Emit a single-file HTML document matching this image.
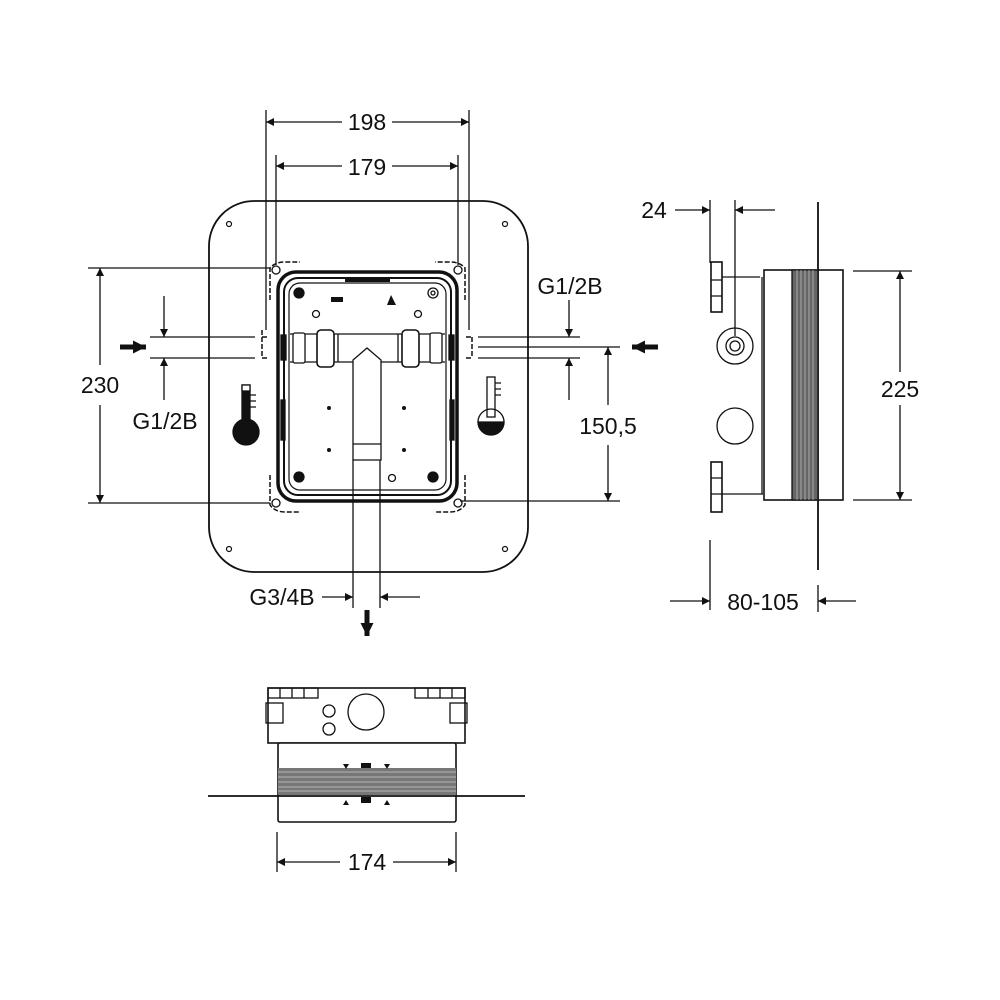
<!DOCTYPE html>
<html><head><style>html,body{margin:0;padding:0;background:#fff}svg{display:block}text{font-family:"Liberation Sans",sans-serif;fill:#111}</style></head><body>
<svg width="1000" height="1000" viewBox="0 0 1000 1000" xmlns="http://www.w3.org/2000/svg">
<defs>
<marker id="a" viewBox="0 0 10 10" refX="10" refY="5" markerWidth="15" markerHeight="8" orient="auto-start-reverse" markerUnits="userSpaceOnUse"><path d="M0,0 L10,5 L0,10z" fill="#111"/></marker>
<marker id="b" viewBox="0 0 10 10" refX="10" refY="5" markerWidth="13" markerHeight="17" orient="auto-start-reverse" markerUnits="userSpaceOnUse"><path d="M0,0 L10,5 L0,10z" fill="#111"/></marker>
</defs>
<g stroke="#111" fill="none" stroke-width="1.3">
<rect x="209" y="201" width="319" height="371" rx="45" stroke-width="1.8"/>
<g fill="none" stroke-width="1.2"><circle cx="229" cy="224" r="2.5"/><circle cx="505" cy="224" r="2.5"/><circle cx="229" cy="549" r="2.5"/><circle cx="505" cy="549" r="2.5"/></g>
<rect x="278" y="272" width="179" height="229" rx="18" stroke-width="3.5"/>
<rect x="284" y="278" width="167" height="217" rx="14" stroke-width="2"/>
<rect x="289" y="283" width="157" height="207" rx="11" stroke-width="1.2"/>
<rect x="345" y="277" width="45" height="5" fill="#111" stroke="none"/>
<g stroke-dasharray="5,2" stroke-width="1.5">
<path d="M270,300 L270,268 Q275,262 285,262 L300,262"/><path d="M465,300 L465,268 Q460,262 450,262 L435,262"/>
<path d="M270,475 L270,505 Q275,512 285,512 L300,512"/><path d="M465,475 L465,505 Q460,512 450,512 L435,512"/>
<path d="M262,330 L262,358 M262,337 L268,337 M262,358 L268,358"/>
<path d="M472,337 L472,358 M466,337 L472,337 M466,358 L472,358"/>
</g>
<circle cx="276" cy="270" r="4"/><circle cx="458" cy="270" r="4"/><circle cx="276" cy="503" r="4"/><circle cx="458" cy="503" r="4"/>
<g fill="#111"><circle cx="299" cy="293" r="5"/><circle cx="299" cy="477" r="5"/><circle cx="433" cy="477" r="5"/></g>
<circle cx="433" cy="293" r="5"/><circle cx="433" cy="293" r="2"/>
<circle cx="316" cy="314" r="3.5"/><circle cx="418" cy="314" r="3.5"/><circle cx="392" cy="478" r="3.5"/>
<g fill="#111" stroke="none"><circle cx="329" cy="408" r="2"/><circle cx="404" cy="408" r="2"/><circle cx="329" cy="450" r="2"/><circle cx="404" cy="450" r="2"/>
<path d="M391,295 L387,305 L396,305 Z"/><rect x="331" y="297" width="12" height="5"/></g>
<line x1="290" y1="334" x2="445" y2="334"/><line x1="290" y1="362" x2="445" y2="362"/>
<rect x="293" y="333" width="12" height="30" rx="2" fill="#fff"/><rect x="430" y="333" width="12" height="30" rx="2" fill="#fff"/>
<rect x="317" y="330" width="17" height="37" rx="4" fill="#fff" stroke-width="1.6"/><rect x="402" y="330" width="17" height="37" rx="4" fill="#fff" stroke-width="1.6"/>
<line x1="338" y1="334" x2="338" y2="362"/><line x1="398" y1="334" x2="398" y2="362"/>
<path d="M353,460 L353,362 L353,360 L367,348 L381,360 L381,460 Z" fill="#fff"/>
<line x1="353" y1="444" x2="381" y2="444"/>
<rect x="281" y="335" width="5" height="25" fill="#111"/><rect x="449" y="335" width="5" height="25" fill="#111"/>
<rect x="281" y="400" width="4" height="40" fill="#111"/><rect x="450" y="400" width="4" height="40" fill="#111"/>
<rect x="242" y="385" width="8" height="38" fill="#111"/><rect x="242" y="385" width="8" height="6" fill="#fff"/>
<circle cx="246" cy="432" r="13" fill="#111"/>
<path d="M250,395 h6 M250,401 h6 M250,407 h6"/>
<rect x="487" y="377" width="8" height="40" fill="#fff"/><path d="M478,422 A13,13 0 0 0 504,422 Z" fill="#111"/>
<circle cx="491" cy="422" r="13"/><path d="M495,383 h6 M495,389 h6 M495,395 h6"/>
<line x1="266" y1="110" x2="266" y2="330"/><line x1="469" y1="110" x2="469" y2="330"/>
<line x1="276" y1="155" x2="276" y2="265"/><line x1="458" y1="155" x2="458" y2="265"/>
<line x1="266" y1="122" x2="342" y2="122" marker-start="url(#a)"/><line x1="392" y1="122" x2="469" y2="122" marker-end="url(#a)"/>
<line x1="276" y1="166" x2="342" y2="166" marker-start="url(#a)"/><line x1="392" y1="166" x2="458" y2="166" marker-end="url(#a)"/>
<line x1="88" y1="268" x2="270" y2="268"/><line x1="88" y1="503" x2="270" y2="503"/>
<line x1="100" y1="268" x2="100" y2="365" marker-start="url(#a)"/><line x1="100" y1="405" x2="100" y2="503" marker-end="url(#a)"/>
<line x1="150" y1="337" x2="255" y2="337"/><line x1="150" y1="358" x2="255" y2="358"/>
<line x1="164" y1="296" x2="164" y2="337" marker-end="url(#a)"/><line x1="164" y1="400" x2="164" y2="358" marker-end="url(#a)"/>
<line x1="120" y1="347" x2="146" y2="347" stroke-width="5" marker-end="url(#b)"/>
<line x1="478" y1="337" x2="580" y2="337"/><line x1="478" y1="358" x2="580" y2="358"/><line x1="478" y1="347" x2="620" y2="347"/>
<line x1="569" y1="300" x2="569" y2="337" marker-end="url(#a)"/><line x1="569" y1="400" x2="569" y2="358" marker-end="url(#a)"/>
<line x1="460" y1="501" x2="620" y2="501"/>
<line x1="608" y1="347" x2="608" y2="405" marker-start="url(#a)"/><line x1="608" y1="445" x2="608" y2="501" marker-end="url(#a)"/>
<line x1="658" y1="347" x2="632" y2="347" stroke-width="5" marker-end="url(#b)"/>
<line x1="353" y1="460" x2="353" y2="608"/><line x1="380" y1="460" x2="380" y2="608"/>
<line x1="322" y1="597" x2="353" y2="597" marker-end="url(#a)"/><line x1="420" y1="597" x2="380" y2="597" marker-end="url(#a)"/>
<line x1="367" y1="610" x2="367" y2="636" stroke-width="5" marker-end="url(#b)"/>
<line x1="710" y1="200" x2="710" y2="263"/><line x1="710" y1="540" x2="710" y2="610"/>
<line x1="735" y1="200" x2="735" y2="336"/>
<line x1="675" y1="210" x2="710" y2="210" marker-end="url(#a)"/><line x1="775" y1="210" x2="735" y2="210" marker-end="url(#a)"/>
<line x1="818" y1="202" x2="818" y2="570" stroke-width="1.8"/><line x1="818" y1="585" x2="818" y2="612"/>
<rect x="711" y="262" width="11" height="50" stroke-width="1.6"/><rect x="711" y="462" width="11" height="50" stroke-width="1.6"/>
<path d="M711,280 h11 M711,296 h11 M711,478 h11 M711,494 h11"/>
<path d="M722,277 L760,277 M722,494 L763,494 M762,277 L762,494"/>
<rect x="764" y="270" width="79" height="230" stroke-width="1.6"/>
<rect x="792" y="270" width="26" height="230" fill="#666" stroke="#111"/>
<path d="M797,270 v230 M801,270 v230 M805,270 v230 M809,270 v230 M813,270 v230" stroke="#bbb" stroke-width="0.8"/>
<circle cx="735" cy="346" r="18"/><circle cx="735" cy="346" r="9"/><circle cx="735" cy="346" r="5"/>
<circle cx="735" cy="426" r="18"/>
<line x1="853" y1="271" x2="912" y2="271"/><line x1="853" y1="500" x2="912" y2="500"/>
<line x1="900" y1="271" x2="900" y2="372" marker-start="url(#a)"/><line x1="900" y1="405" x2="900" y2="500" marker-end="url(#a)"/>
<line x1="670" y1="601" x2="710" y2="601" marker-end="url(#a)"/><line x1="856" y1="601" x2="818" y2="601" marker-end="url(#a)"/>
<rect x="268" y="688" width="197" height="55" stroke-width="1.6" fill="#fff"/>
<rect x="268" y="688" width="50" height="10"/><rect x="415" y="688" width="50" height="10"/>
<path d="M280,688 v10 M292,688 v10 M304,688 v10 M428,688 v10 M440,688 v10 M452,688 v10"/>
<rect x="266" y="703" width="17" height="20"/><rect x="450" y="703" width="17" height="20"/>
<circle cx="329" cy="711" r="6"/><circle cx="329" cy="729" r="6"/><circle cx="366" cy="712" r="18"/>
<rect x="278" y="743" width="178" height="79" rx="2" stroke-width="1.6" fill="#fff"/>
<rect x="278" y="768" width="178" height="27" fill="#777" stroke="none"/>
<path d="M278,772 h178 M278,777 h178 M278,782 h178 M278,787 h178 M278,791 h178" stroke="#ccc" stroke-width="0.8"/>
<line x1="208" y1="796" x2="525" y2="796" stroke-width="1.8"/>
<g fill="#111" stroke="none"><path d="M343,764 l6,0 l-3,5z M384,764 l6,0 l-3,5z M343,805 l6,0 l-3,-5z M384,805 l6,0 l-3,-5z"/><rect x="361" y="763" width="10" height="5"/><rect x="361" y="797" width="10" height="6"/></g>
<line x1="277" y1="832" x2="277" y2="872"/><line x1="456" y1="832" x2="456" y2="872"/>
<line x1="277" y1="862" x2="340" y2="862" marker-start="url(#a)"/><line x1="393" y1="862" x2="456" y2="862" marker-end="url(#a)"/>
</g>
<g font-size="23">
<text x="367" y="130" text-anchor="middle">198</text>
<text x="367" y="175" text-anchor="middle">179</text>
<text x="100" y="393" text-anchor="middle">230</text>
<text x="165" y="429" text-anchor="middle">G1/2B</text>
<text x="570" y="294" text-anchor="middle">G1/2B</text>
<text x="608" y="434" text-anchor="middle">150,5</text>
<text x="282" y="605" text-anchor="middle">G3/4B</text>
<text x="654" y="218" text-anchor="middle">24</text>
<text x="900" y="397" text-anchor="middle">225</text>
<text x="763" y="610" text-anchor="middle">80-105</text>
<text x="367" y="870" text-anchor="middle">174</text>
</g>
</svg>
</body></html>
